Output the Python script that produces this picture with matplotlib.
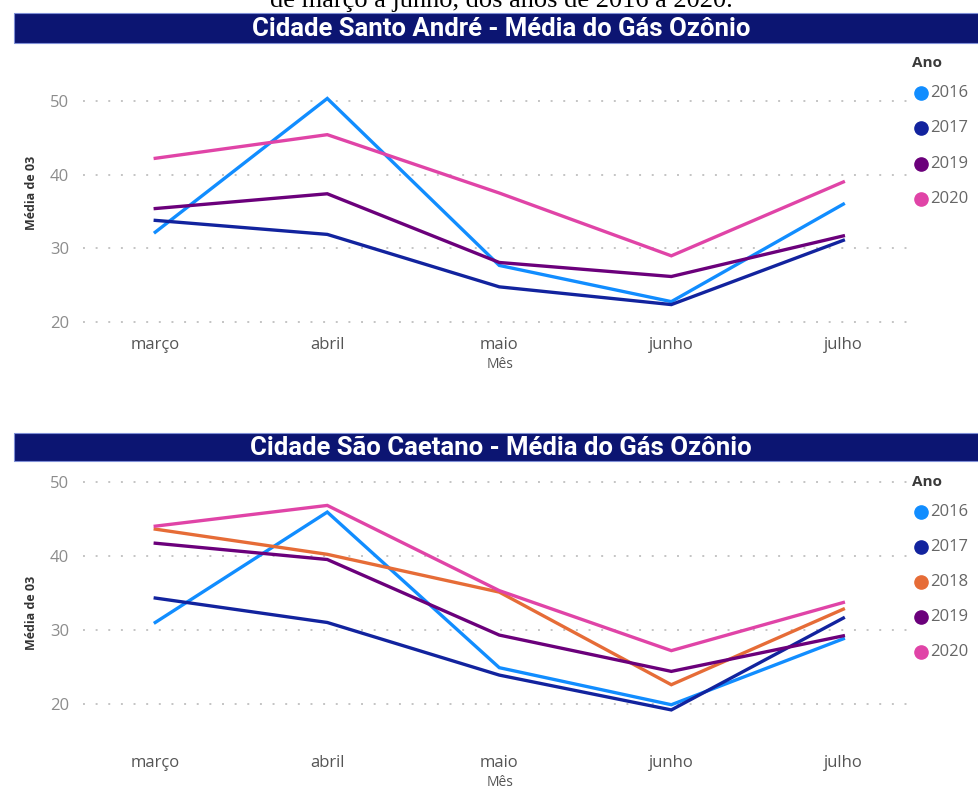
import matplotlib
matplotlib.use("Agg")
import matplotlib.pyplot as plt
from matplotlib.patches import Rectangle
from matplotlib.lines import Line2D

# ---- data -------------------------------------------------------------
months = ["março", "abril", "maio", "junho", "julho"]
y_ticks = [20, 30, 40, 50]

# Santo André – average O3 by month
sa_years = ["2016", "2017", "2019", "2020"]
sa_2016 = [32.2, 50.3, 27.7, 22.8, 36.0]
sa_2017 = [33.8, 31.9, 24.8, 22.4, 31.1]
sa_2019 = [35.4, 37.4, 28.1, 26.2, 31.7]
sa_2020 = [42.2, 45.4, 37.5, 29.0, 39.0]

# São Caetano – average O3 by month
sc_years = ["2016", "2017", "2018", "2019", "2020"]
sc_2016 = [31.0, 45.9, 24.9, 19.9, 28.8]
sc_2017 = [34.3, 31.0, 23.9, 19.2, 31.6]
sc_2018 = [43.6, 40.2, 35.1, 22.6, 32.8]
sc_2019 = [41.7, 39.5, 29.3, 24.4, 29.2]
sc_2020 = [44.0, 46.8, 35.3, 27.2, 33.7]

year_colors = {
    "2016": "#118DFF",
    "2017": "#12239E",
    "2018": "#E66C37",
    "2019": "#6B007B",
    "2020": "#E044A7",
}

caption = "de março a junho, dos anos de 2016 a 2020."
title_sa = "Cidade Santo André - Média do Gás Ozônio"
title_sc = "Cidade São Caetano - Média do Gás Ozônio"

# ---- figure -----------------------------------------------------------
W, H = 979, 790
fig = plt.figure(figsize=(W / 100, H / 100), dpi=100)
fig.patch.set_facecolor("white")

SANS = ["Open Sans", "DejaVu Sans"]
NAVY = "#0c1572"


def fx(px):
    return px / W


def fy(py):
    return 1 - py / H


# caption line of the surrounding document (runs off the top edge)
fig.text(fx(501), fy(7), caption, ha="center", va="baseline",
         family=["Liberation Serif", "DejaVu Serif"], fontsize=19,
         color="black")


def title_bar(top_px, bottom_px, text):
    fig.add_artist(Rectangle((fx(14), fy(bottom_px)), fx(W - 14),
                             (bottom_px - top_px) / H,
                             transform=fig.transFigure, facecolor=NAVY,
                             edgecolor="#7f8fd6", linewidth=0.8))
    fig.text(fx(501), fy((top_px + bottom_px) / 2 + 1), text, ha="center",
             va="center", color="white", family=["Roboto", "DejaVu Sans"],
             fontsize=18.5, fontweight="bold")


def legend(x_px, title_y_px, first_y_px, step_px, years):
    fig.text(fx(912), fy(title_y_px), "Ano", ha="left", va="center",
             family=SANS, fontsize=11, fontweight="bold", color="#3a3a3a")
    for i, yr in enumerate(years):
        yc = first_y_px + i * step_px
        fig.add_artist(Line2D([fx(x_px)], [fy(yc)], marker="o",
                              markersize=9.5, linestyle="none",
                              color=year_colors[yr],
                              transform=fig.transFigure))
        fig.text(fx(x_px + 9), fy(yc), yr, ha="left", va="center",
                 family=SANS, fontsize=12, color="#666666")


def panel(ax, series, years, ylim):
    x = range(len(months))
    for yr, vals in zip(years, series):
        ax.plot(x, vals, color=year_colors[yr], linewidth=2.4,
                solid_joinstyle="miter", clip_on=False, zorder=3)
    ax.set_xlim(-0.42, 4.37)
    ax.set_ylim(*ylim)
    ax.set_yticks(y_ticks)
    ax.set_xticks(list(x))
    ax.set_xticklabels(months)
    for s in ax.spines.values():
        s.set_visible(False)
    ax.tick_params(length=0)
    ax.tick_params(axis="y", labelsize=12, labelcolor="#8c8c8c", pad=10)
    ax.tick_params(axis="x", labelsize=12, labelcolor="#555555", pad=5)
    for lab in ax.get_xticklabels() + ax.get_yticklabels():
        lab.set_family(SANS)
    ax.grid(axis="y", color="#c4c4c4", linestyle=(0, (1, 5.5)),
            linewidth=1.4, zorder=0)
    ax.grid(axis="x", visible=False)
    ax.set_facecolor("none")


# ---- top panel: Santo André -------------------------------------------
title_bar(13, 43, title_sa)
ax1 = fig.add_axes([fx(83), fy(329.7), fx(907 - 83), (329.7 - 93.3) / H])
panel(ax1, [sa_2016, sa_2017, sa_2019, sa_2020], sa_years, (19, 51))
fig.text(fx(500), fy(365), "Mês", ha="center", va="center", family=SANS,
         fontsize=10, color="#555555")
fig.text(fx(32), fy(193), "Média de 03", ha="center", va="center",
         rotation=90, family=SANS, fontsize=9, fontweight="bold",
         color="#333333")
legend(921, 63, 93, 35.3, sa_years)

# ---- bottom panel: São Caetano ----------------------------------------
title_bar(433, 461, title_sc)
ax2 = fig.add_axes([fx(83), fy(748), fx(907 - 83), (748 - 474.3) / H])
panel(ax2, [sc_2016, sc_2017, sc_2018, sc_2019, sc_2020], sc_years,
      (14.06, 51))
fig.text(fx(500), fy(783), "Mês", ha="center", va="center", family=SANS,
         fontsize=10, color="#555555")
fig.text(fx(32), fy(613), "Média de 03", ha="center", va="center",
         rotation=90, family=SANS, fontsize=9, fontweight="bold",
         color="#333333")
legend(921, 482, 512, 35.0, sc_years)

fig.savefig("out.png", dpi=100, facecolor="white")
